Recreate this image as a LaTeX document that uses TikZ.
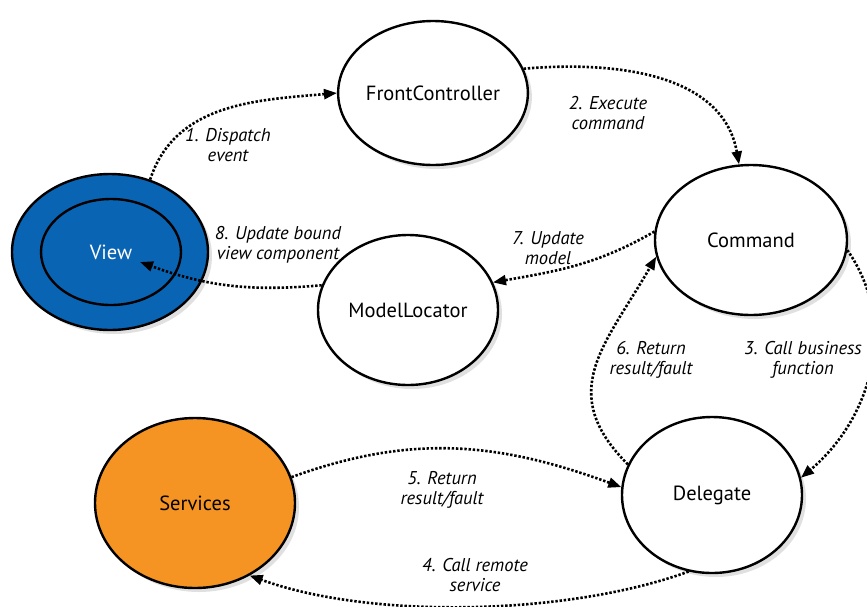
\documentclass[tikz,border=0pt]{standalone}
\usepackage{fontspec}
\setmainfont{PT Sans}
\usepackage{xcolor}
\usepackage{tikz}
\usetikzlibrary{shapes.geometric,arrows.meta,shadows}

\definecolor{viewblue}{RGB}{10,100,180}
\definecolor{servorange}{RGB}{245,148,35}

\begin{document}
\begin{tikzpicture}[x=1pt, y=-1pt,
    part/.style={ellipse, draw, line width=2.4pt, fill=white, inner sep=0pt,
      font=\fontsize{20.5}{24}\selectfont, text=black,
      drop shadow={shadow xshift=4pt, shadow yshift=-4pt, opacity=0.2, fill=black!60}},
    flow/.style={line width=2.6pt, dash pattern=on 2.4pt off 1.8pt,
      -{Triangle[length=13pt, width=10pt]}},
    lbl/.style={align=center, font=\fontsize{18.5}{20}\selectfont\itshape, text=black}]
  \useasboundingbox (0,0) rectangle (867,606);

  % the parts of the framework
  \node[part, minimum width=176pt, minimum height=144pt] (front) at (433, 93) {FrontController};
  \node[part, minimum width=192pt, minimum height=150pt] (command) at (751, 240) {Command};
  \node[part, minimum width=180pt, minimum height=150pt] (locator) at (408, 310) {ModelLocator};
  \node[part, minimum width=180pt, minimum height=156pt] (delegate) at (712, 495) {Delegate};
  \node[part, fill=servorange, minimum width=200pt, minimum height=170pt] (services) at (195, 503) {Services};
  \node[part, fill=viewblue, minimum width=196pt, minimum height=156pt] (view) at (110, 252) {};
  \node[ellipse, draw, line width=2.4pt, inner sep=0pt, minimum width=140pt, minimum height=106pt,
    font=\fontsize{20.5}{24}\selectfont, text=white] (viewin) at (111, 252) {View};
  \coordinate (viewtip) at (140, 262);

  % the flow of an event
  \draw[flow] (view.61) to[out=72, in=185] (front.180);
  \node[lbl] (l1) at (228, 145) {1. Dispatch\\event};

  \draw[flow] (front.15) to[out=5, in=100] (command.99);
  \node[lbl] (l2) at (608, 113) {2. Execute\\command};

  \draw[flow] (command.-6) to[out=-55, in=40] (delegate.11);
  \node[lbl] (l3) at (803, 360) {3. Call business\\function};

  \draw[flow] (delegate.253) to[out=200, in=-20, looseness=0.75] (services.307);
  \node[lbl] (l4) at (475, 575) {4. Call remote\\service};

  \draw[flow] (services.15) to[out=20, in=160] (delegate.175);
  \node[lbl] (l5) at (442, 490) {5. Return\\result/fault};

  \draw[flow] (delegate.160) to[out=135, in=240, looseness=1.25] (command.190);
  \node[lbl] (l6) at (651, 360) {6. Return\\result/fault};

  \draw[flow] (command.175) to[out=210, in=10] (locator.18);
  \node[lbl] (l7) at (548, 248) {7. Update\\model};

  \draw[flow] (locator.164) to[out=185, in=-20] (viewtip);
  \node[lbl] (l8) at (278, 245) {8. Update bound\\view component};
\end{tikzpicture}
\end{document}
